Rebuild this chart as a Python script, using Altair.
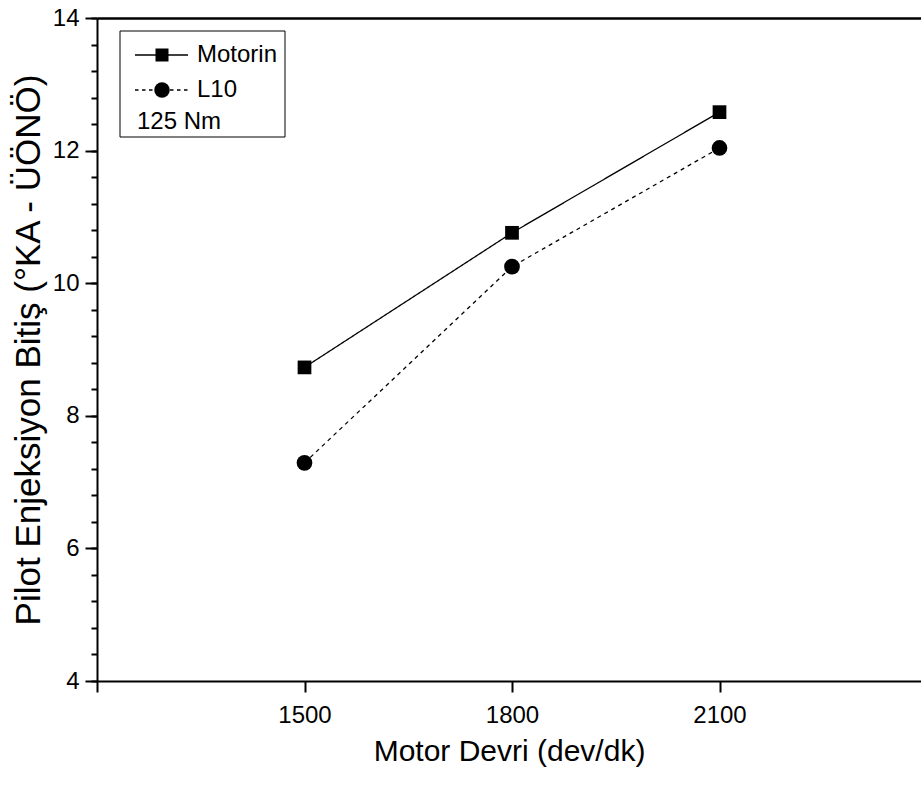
import altair as alt
import pandas as pd

# ---- data ----
speeds = [1500, 1800, 2100]
motorin = [8.73, 10.76, 12.58]
l10 = [7.29, 10.25, 12.04]
series = ["Motorin", "L10"]
x_ticks = [1200, 1500, 1800, 2100]
y_major = [4, 6, 8, 10, 12, 14]
y_minor = [round(4 + 0.4 * i, 1) for i in range(26)]
legend_title = "125 Nm"
x_title = "Motor Devri (dev/dk)"
y_title = "Pilot Enjeksiyon Bitiş (°KA - ÜÖNÖ)"

df = pd.DataFrame({
    "devir": speeds * 2,
    "value": motorin + l10,
    "fuel": [series[0]] * 3 + [series[1]] * 3,
})

FONT = "Liberation Sans"
XMAX = 1200 + 824 * 300 / 207.5

xs = alt.Scale(domain=[1200, XMAX], nice=False, zero=False)
ys = alt.Scale(domain=[4, 14], nice=False, zero=False)

base = alt.Chart(df)

lines = base.mark_line(color="black", strokeWidth=1.3).encode(
    x=alt.X("devir:Q", scale=xs, axis=alt.Axis(
        orient="bottom", values=x_ticks, format="d",
        labelExpr="datum.value == 1200 ? '' : datum.label",
        labelFontSize=24, labelFont=FONT, labelColor="black",
        title=x_title, tickSize=11, labelPadding=11, titlePadding=9,
        titleFontSize=30)),
    y=alt.Y("value:Q", scale=ys, axis=alt.Axis(
        orient="left", values=y_major, format="d", title=y_title,
        labelFontSize=24, labelFont=FONT, labelColor="black",
        tickSize=12, labelPadding=6, titlePadding=6, titleFontSize=35)),
    strokeDash=alt.StrokeDash("fuel:N", scale=alt.Scale(domain=series, range=[[1, 0], [4, 4]]),
                              legend=None),
    detail="fuel:N",
)

pts_m = base.transform_filter(f"datum.fuel == '{series[0]}'").mark_point(
    shape="square", filled=True, size=188, color="black", opacity=1).encode(
    x=alt.X("devir:Q", scale=xs, axis=alt.Axis(
        orient="top", ticks=False, labels=False, title=None, domainWidth=2.5)),
    y=alt.Y("value:Q", scale=ys, axis=alt.Axis(
        orient="left", values=y_minor, tickSize=6, labels=False, title=None, domain=False)),
)

pts_l = base.transform_filter(f"datum.fuel == '{series[1]}'").mark_point(
    shape="circle", filled=True, size=246, color="black", opacity=1).encode(
    x=alt.X("devir:Q", scale=xs, axis=None),
    y=alt.Y("value:Q", scale=ys, axis=None),
)

# ---- legend box (drawn inside the plot, top-left) ----
leg_df = pd.DataFrame({"fuel": series})
one = alt.Chart(pd.DataFrame({"t": [legend_title]}))

frame = one.mark_rect(fill="white", stroke="black", strokeWidth=1).encode(
    x=alt.value(23), x2=alt.value(188), y=alt.value(13), y2=alt.value(119))

row_y = {series[0]: 37, series[1]: 72}


def entry(name, shape, size, dash):
    d = alt.Chart(leg_df).transform_filter(f"datum.fuel == '{name}'")
    ln = d.mark_rule(color="black", strokeWidth=1.3, strokeDash=dash).encode(
        x=alt.value(38), x2=alt.value(91), y=alt.value(row_y[name]))
    sym = d.mark_point(shape=shape, filled=True, color="black", opacity=1, size=size).encode(
        x=alt.value(65), y=alt.value(row_y[name]))
    lab = d.mark_text(align="left", baseline="middle", font=FONT, fontSize=24,
                      color="black").encode(
        x=alt.value(100), y=alt.value(row_y[name]), text="fuel:N")
    return [ln, sym, lab]


leg_layers = [frame]
leg_layers += entry(series[0], "square", 169, [1, 0])
leg_layers += entry(series[1], "circle", 240, [3.5, 3.5])
leg_layers.append(one.mark_text(align="left", baseline="middle", font=FONT, fontSize=24,
                                color="black").encode(
    x=alt.value(40), y=alt.value(104), text="t:N"))

chart = alt.layer(lines, pts_m, pts_l, *leg_layers).resolve_axis(
    x="independent", y="independent"
).properties(
    width=824, height=663,
    padding={"left": 97, "top": 18, "right": 0, "bottom": 104},
    autosize=alt.AutoSizeParams(type="none"),
    background="white",
).configure_view(stroke=None).configure_axis(
    labelFont=FONT, labelFontSize=24, labelColor="black",
    titleFont=FONT, titleFontSize=30, titleFontWeight="normal", titleColor="black",
    tickColor="black", tickWidth=2, domainColor="black", domainWidth=2, grid=False,
)

chart.save("out.html", embed_options={"renderer": "svg", "actions": False})
